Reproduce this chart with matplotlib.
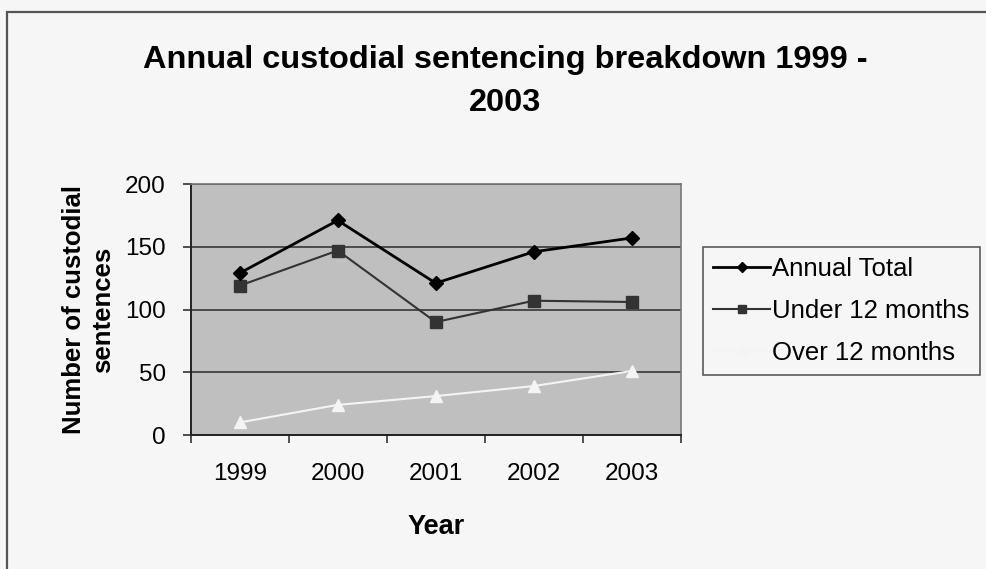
import matplotlib
matplotlib.use("Agg")
import matplotlib.pyplot as plt
from matplotlib.patches import Rectangle
from matplotlib.ticker import FixedLocator

plt.rcParams["font.family"] = ["Liberation Sans", "DejaVu Sans"]

years = ["1999", "2000", "2001", "2002", "2003"]
annual_total = [129, 171, 121, 146, 157]
under_12 = [119, 147, 90, 107, 106]
over_12 = [10, 24, 31, 39, 51]

fig = plt.figure(figsize=(9.86, 5.69), dpi=100)
fig.patch.set_facecolor("#f6f6f6")

# chart frame (runs off the right/bottom edge)
fig.patches.append(Rectangle((0.007, -0.05), 1.1, 1.029, transform=fig.transFigure,
                             fill=False, edgecolor="#555555", linewidth=1.6))

ax = fig.add_axes([0.1934, 0.2355, 0.497, 0.4411])
ax.set_facecolor("#bfbfbf")

x = list(range(len(years)))
ax.plot(x, annual_total, color="black", linewidth=2, marker="D", markersize=7,
        label="Annual Total", zorder=4)
ax.plot(x, under_12, color="#333333", linewidth=1.5, marker="s", markersize=8,
        label="Under 12 months", zorder=3)
ax.plot(x, over_12, color="#f4f4f4", linewidth=1.5, marker="^", markersize=9,
        label="Over 12 months", zorder=3)

ax.set_xlim(-0.5, len(years) - 0.5)
ax.set_ylim(0, 200)
ax.set_yticks([0, 50, 100, 150, 200])
ax.yaxis.grid(True, color="#4a4a4a", linewidth=1.4)
ax.set_axisbelow(True)

ax.set_xticks(x)
ax.set_xticklabels(years)
ax.xaxis.set_minor_locator(FixedLocator([i - 0.5 for i in range(len(years) + 1)]))
ax.tick_params(axis="x", which="major", length=0, pad=20, labelsize=17.5)
ax.tick_params(axis="x", which="minor", length=6, width=1.2, color="#333333")
ax.tick_params(axis="y", length=6, width=1.2, color="#333333", labelsize=17.5, pad=12)

for side in ["top", "right"]:
    ax.spines[side].set_color("#777777")
    ax.spines[side].set_linewidth(1.2)
for side in ["left", "bottom"]:
    ax.spines[side].set_color("#222222")
    ax.spines[side].set_linewidth(1.4)

ax.set_xlabel("Year", fontsize=19.5, fontweight="bold", labelpad=21)
ax.set_ylabel("Number of custodial\nsentences", fontsize=18.5, fontweight="bold",
              labelpad=7, linespacing=1.25)

fig.text(0.512, 0.857, "Annual custodial sentencing breakdown 1999 -\n2003",
         ha="center", va="center", fontsize=23.4, fontweight="bold", linespacing=1.55)

leg = fig.legend(loc="upper left", bbox_to_anchor=(0.713, 0.566), fontsize=18.5,
                 frameon=True, fancybox=False, handlelength=2.2, handletextpad=0.1,
                 borderpad=0.4, labelspacing=0.7, borderaxespad=0, markerscale=0.75)
leg.get_frame().set_edgecolor("#333333")
leg.get_frame().set_facecolor("#f6f6f6")
leg.get_frame().set_linewidth(1.2)

fig.savefig("out.png", dpi=100, facecolor=fig.get_facecolor())
